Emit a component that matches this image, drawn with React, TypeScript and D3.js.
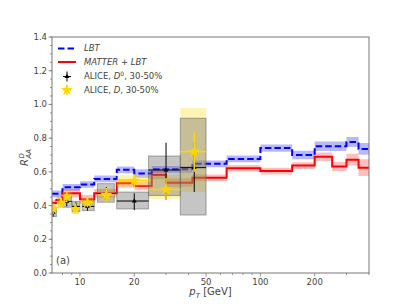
import React, { useEffect, useRef } from 'react';
import * as d3 from 'd3';

// theory histograms (bin edges in GeV, one value per bin)
const binEdges = [7, 7.4, 8, 10, 12, 16, 20, 25, 30, 42, 65, 100, 150, 200, 250, 300, 350, 400];
const lbt = [0.47, 0.47, 0.508, 0.525, 0.558, 0.612, 0.59, 0.615, 0.615, 0.648, 0.677, 0.741, 0.70, 0.752, 0.752, 0.777, 0.736];
const lbtErr = [0.02, 0.02, 0.02, 0.02, 0.02, 0.02, 0.025, 0.02, 0.02, 0.02, 0.02, 0.022, 0.025, 0.028, 0.028, 0.03, 0.035];
const matter = [0.415, 0.433, 0.473, 0.437, 0.473, 0.532, 0.516, 0.581, 0.536, 0.565, 0.621, 0.605, 0.637, 0.69, 0.632, 0.672, 0.625];
const matterErr = [0.02, 0.02, 0.025, 0.025, 0.025, 0.025, 0.025, 0.025, 0.025, 0.02, 0.02, 0.02, 0.02, 0.025, 0.027, 0.035, 0.05];

// ALICE D0, 30-50%
const d0Pt = [7.1, 8.45, 9.5, 11, 14, 20, 30, 43];
const d0Lo = [6.8, 8.05, 9.05, 10.3, 12.5, 16, 24, 36];
const d0Hi = [7.4, 9.0, 10, 12, 15.5, 24, 36, 50];
const d0Val = [0.36, 0.425, 0.395, 0.395, 0.47, 0.427, 0.611, 0.625];
const d0StatLo = [0.335, 0.395, 0.37, 0.37, 0.43, 0.373, 0.433, 0.48];
const d0StatHi = [0.385, 0.455, 0.42, 0.42, 0.51, 0.473, 0.773, 0.77];
const d0SysLo = [0.335, 0.39, 0.365, 0.37, 0.42, 0.38, 0.46, 0.344];
const d0SysHi = [0.39, 0.46, 0.425, 0.43, 0.53, 0.48, 0.694, 0.918];

// ALICE D (average), 30-50%
const dPt = [7.1, 7.85, 8.45, 9.45, 11, 14, 20, 30, 43];
const dLo = [6.8, 7.5, 8.05, 9.0, 10.2, 12.5, 16, 24, 36];
const dHi = [7.4, 8.2, 8.95, 9.95, 11.9, 15.5, 24, 36, 50];
const dVal = [0.38, 0.415, 0.453, 0.38, 0.418, 0.463, 0.548, 0.496, 0.72];
const dStatLo = [0.35, 0.385, 0.42, 0.35, 0.39, 0.42, 0.51, 0.433, 0.60];
const dStatHi = [0.41, 0.445, 0.485, 0.41, 0.45, 0.505, 0.585, 0.563, 0.84];
const dSysLo = [0.35, 0.385, 0.42, 0.35, 0.39, 0.43, 0.512, 0.44, 0.482];
const dSysHi = [0.41, 0.445, 0.49, 0.41, 0.45, 0.50, 0.581, 0.58, 0.979];

const xMajor = [10, 20, 50, 100, 200];
const xMinor = [8, 9, 30, 40, 60, 70, 80, 90, 300, 400];
const yMajor = [0, 0.2, 0.4, 0.6, 0.8, 1.0, 1.2, 1.4];

export default function App() {
  const svgRef = useRef<SVGSVGElement>(null);

  useEffect(() => {
    if (!svgRef.current) return;
    const root = d3.select(svgRef.current);
    root.selectAll('*').remove();

    const W = 411, H = 308;
    const margin = { top: 37, right: 42, bottom: 35, left: 52 };
    const width = W - margin.left - margin.right;
    const height = H - margin.top - margin.bottom;
    const font = 'DejaVu Sans, sans-serif';
    const textCol = '#444';
    const axisCol = '#777';

    const x = d3.scaleLog().domain([7, 400]).range([0, width]);
    const y = d3.scaleLinear().domain([0, 1.4]).range([height, 0]);

    root.attr('width', W).attr('height', H);
    root.append('defs').append('clipPath').attr('id', 'plotclip')
      .append('rect').attr('width', width).attr('height', height);

    const g = root.append('g').attr('transform', `translate(${margin.left},${margin.top})`);
    const plot = g.append('g').attr('clip-path', 'url(#plotclip)');

    // theory bands + step lines
    const stepPts = (vals: number[], errs: number[]) => {
      const pts = vals.map((v, i) => ({ x: binEdges[i], v, e: errs[i] }));
      const last = pts[pts.length - 1];
      pts.push({ x: binEdges[binEdges.length - 1], v: last.v, e: last.e });
      return pts;
    };
    const area = d3.area<any>().curve(d3.curveStepAfter)
      .x((d) => x(d.x)).y0((d) => y(d.v - d.e)).y1((d) => y(d.v + d.e));
    const line = d3.line<any>().curve(d3.curveStepAfter)
      .x((d) => x(d.x)).y((d) => y(d.v));

    const lbtPts = stepPts(lbt, lbtErr);
    const matPts = stepPts(matter, matterErr);
    plot.append('path').attr('d', area(lbtPts)).attr('fill', 'rgba(0,0,255,0.28)');
    plot.append('path').attr('d', area(matPts)).attr('fill', 'rgba(255,0,0,0.25)');
    plot.append('path').attr('d', line(lbtPts)).attr('fill', 'none')
      .attr('stroke', '#0000ff').attr('stroke-width', 2).attr('stroke-dasharray', '6.5,3');
    plot.append('path').attr('d', line(matPts)).attr('fill', 'none')
      .attr('stroke', '#ff0000').attr('stroke-width', 2);

    // systematic boxes
    dPt.forEach((_, i) => {
      plot.append('rect')
        .attr('x', x(dLo[i])).attr('width', x(dHi[i]) - x(dLo[i]))
        .attr('y', y(dSysHi[i])).attr('height', y(dSysLo[i]) - y(dSysHi[i]))
        .attr('fill', 'rgba(255,215,0,0.3)');
    });
    d0Pt.forEach((_, i) => {
      plot.append('rect')
        .attr('x', x(d0Lo[i])).attr('width', x(d0Hi[i]) - x(d0Lo[i]))
        .attr('y', y(d0SysHi[i])).attr('height', y(d0SysLo[i]) - y(d0SysHi[i]))
        .attr('fill', 'rgba(110,110,110,0.4)').attr('stroke', 'rgba(90,90,90,0.5)').attr('stroke-width', 1);
    });

    // error bars + markers
    const drawPoints = (pt: number[], lo: number[], hi: number[], val: number[], sLo: number[], sHi: number[],
      color: string, sw: number, sym: d3.SymbolType, size: number) => {
      pt.forEach((p, i) => {
        plot.append('line').attr('x1', x(p)).attr('x2', x(p)).attr('y1', y(sLo[i])).attr('y2', y(sHi[i]))
          .attr('stroke', color).attr('stroke-width', sw);
        plot.append('line').attr('x1', x(lo[i])).attr('x2', x(hi[i])).attr('y1', y(val[i])).attr('y2', y(val[i]))
          .attr('stroke', color).attr('stroke-width', sw);
        plot.append('path').attr('d', d3.symbol().type(sym).size(size)())
          .attr('transform', `translate(${x(p)},${y(val[i])})`).attr('fill', color);
      });
    };
    drawPoints(d0Pt, d0Lo, d0Hi, d0Val, d0StatLo, d0StatHi, '#000', 1, d3.symbolTriangle, 10);
    drawPoints(dPt, dLo, dHi, dVal, dStatLo, dStatHi, '#ffd700', 1.5, d3.symbolStar, 45);

    // frame
    g.append('rect').attr('width', width).attr('height', height)
      .attr('fill', 'none').attr('stroke', axisCol).attr('stroke-width', 1);

    // y axis ticks
    const yMinor = d3.range(0, 1.4001, 0.05);
    yMinor.forEach((v) => {
      g.append('line').attr('x1', -2).attr('x2', 0).attr('y1', y(v)).attr('y2', y(v))
        .attr('stroke', axisCol).attr('stroke-width', 0.8);
    });
    yMajor.forEach((v) => {
      g.append('line').attr('x1', -3.5).attr('x2', 0).attr('y1', y(v)).attr('y2', y(v))
        .attr('stroke', axisCol).attr('stroke-width', 0.8);
      g.append('text').attr('x', -5).attr('y', y(v)).attr('dy', '0.35em')
        .attr('text-anchor', 'end').attr('font-family', font).attr('font-size', 8.5)
        .attr('fill', textCol).text(v.toFixed(1));
    });

    // x axis ticks
    xMinor.forEach((v) => {
      g.append('line').attr('x1', x(v)).attr('x2', x(v)).attr('y1', height).attr('y2', height + 2)
        .attr('stroke', axisCol).attr('stroke-width', 0.8);
    });
    xMajor.forEach((v) => {
      g.append('line').attr('x1', x(v)).attr('x2', x(v)).attr('y1', height).attr('y2', height + 3.5)
        .attr('stroke', axisCol).attr('stroke-width', 0.8);
      g.append('text').attr('x', x(v)).attr('y', height + 12)
        .attr('text-anchor', 'middle').attr('font-family', font).attr('font-size', 8.5)
        .attr('fill', textCol).text(String(v));
    });

    // axis labels
    const xl = g.append('text').attr('x', width / 2).attr('y', height + 22)
      .attr('text-anchor', 'middle').attr('font-family', font).attr('font-size', 10).attr('fill', textCol);
    xl.append('tspan').attr('font-style', 'italic').text('p');
    xl.append('tspan').attr('font-style', 'italic').attr('font-size', 7).attr('dy', 2.5).text('T');
    xl.append('tspan').attr('dy', -2.5).text(' [GeV]');

    const yl = root.append('g').attr('transform', `translate(28,${margin.top + height / 2 + 2}) rotate(-90)`)
      .attr('font-family', font).attr('font-style', 'italic').attr('fill', textCol);
    yl.append('text').attr('x', -9).attr('y', 0).attr('font-size', 10).text('R');
    yl.append('text').attr('x', -1.5).attr('y', -4.5).attr('font-size', 7).text('D');
    yl.append('text').attr('x', -1.5).attr('y', 3).attr('font-size', 7).text('AA');

    g.append('text').attr('x', 4).attr('y', height - 9).attr('font-family', font)
      .attr('font-size', 10).attr('fill', textCol).text('(a)');

    // legend
    const lg = g.append('g').attr('font-family', font).attr('font-size', 8.5).attr('fill', textCol);
    const lx0 = 6, lx1 = 24, tx = 32;
    const rows = [11.5, 25, 39.5, 53];
    lg.append('line').attr('x1', lx0).attr('x2', lx1).attr('y1', rows[0]).attr('y2', rows[0])
      .attr('stroke', '#0000ff').attr('stroke-width', 2).attr('stroke-dasharray', '6.5,3');
    lg.append('line').attr('x1', lx0).attr('x2', lx1).attr('y1', rows[1]).attr('y2', rows[1])
      .attr('stroke', '#ff0000').attr('stroke-width', 2);
    const cx = (lx0 + lx1) / 2;
    lg.append('line').attr('x1', cx).attr('x2', cx).attr('y1', rows[2] - 5).attr('y2', rows[2] + 5).attr('stroke', '#000');
    lg.append('line').attr('x1', cx - 4).attr('x2', cx + 4).attr('y1', rows[2]).attr('y2', rows[2]).attr('stroke', '#000');
    lg.append('path').attr('d', d3.symbol().type(d3.symbolTriangle).size(10)())
      .attr('transform', `translate(${cx},${rows[2]})`).attr('fill', '#000');
    lg.append('line').attr('x1', cx).attr('x2', cx).attr('y1', rows[3] - 5).attr('y2', rows[3] + 5)
      .attr('stroke', '#ffd700').attr('stroke-width', 1.5);
    lg.append('line').attr('x1', cx - 4).attr('x2', cx + 4).attr('y1', rows[3]).attr('y2', rows[3])
      .attr('stroke', '#ffd700').attr('stroke-width', 1.5);
    lg.append('path').attr('d', d3.symbol().type(d3.symbolStar).size(45)())
      .attr('transform', `translate(${cx},${rows[3]})`).attr('fill', '#ffd700');

    lg.append('text').attr('x', tx).attr('y', rows[0]).attr('dy', '0.35em').attr('font-style', 'italic').text('LBT');
    lg.append('text').attr('x', tx).attr('y', rows[1]).attr('dy', '0.35em').attr('font-style', 'italic').text('MATTER + LBT');
    const t3 = lg.append('text').attr('x', tx).attr('y', rows[2]).attr('dy', '0.35em');
    t3.append('tspan').text('ALICE, ');
    t3.append('tspan').attr('font-style', 'italic').text('D');
    t3.append('tspan').attr('font-size', 6).attr('dy', -3.5).text('0');
    t3.append('tspan').attr('dy', 3.5).text(', 30-50%');
    const t4 = lg.append('text').attr('x', tx).attr('y', rows[3]).attr('dy', '0.35em');
    t4.append('tspan').text('ALICE, ');
    t4.append('tspan').attr('font-style', 'italic').text('D');
    t4.append('tspan').text(', 30-50%');
  }, []);

  return (
    <div style={{ position: 'absolute', left: 0, top: 0 }}>
      <svg ref={svgRef} />
    </div>
  );
}
